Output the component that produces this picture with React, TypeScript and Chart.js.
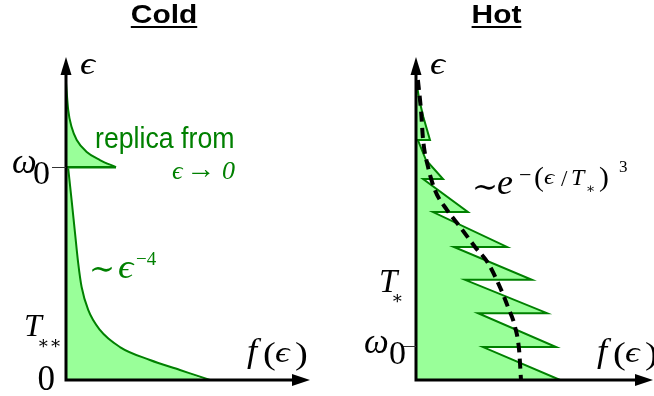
import React, { useEffect, useRef } from 'react';
import { Chart, registerables } from 'chart.js';
Chart.register(...registerables);

// ---------- Cold panel (f, epsilon) ----------
const coldReplicaF = [0, 0.09, 0.23, 0.44, 0.85, 1.39, 2.05];
const coldReplicaE = [9.2, 8.36, 7.83, 7.43, 7.06, 6.81, 6.59];
const coldTailF = [0.09, 0.23, 0.37, 0.5, 0.64, 0.91, 1.39, 2.21, 3.44, 4.67, 5.9];
const coldTailE = [6.55, 5.57, 4.55, 3.62, 2.88, 2.17, 1.55, 1.02, 0.62, 0.31, 0];
const coldOmega0 = 6.59;

// ---------- Hot panel (f, epsilon) ----------
const hotSawF = [0, 0.14, 0.31, 0.59, 0.08, 0.42, 1.14, 0.3, 2.19, 0.72, 3.84, 1.6, 4.89, 2.07, 5.53, 2.62, 5.91, 2.83, 6.08];
const hotSawE = [9.29, 8.67, 8.14, 7.43, 7.43, 6.81, 6.22, 6.22, 5.2, 5.2, 4.12, 4.12, 3.1, 3.1, 2.07, 2.07, 1.02, 1.02, 0];
const hotFitF = [0.08, 0.21, 0.3, 0.51, 0.8, 1.31, 1.86, 2.49, 3.04, 3.54, 3.88, 4.18, 4.35, 4.43];
const hotFitE = [9.29, 8.36, 7.43, 6.59, 5.88, 5.26, 4.74, 4.12, 3.62, 2.88, 2.26, 1.64, 0.93, 0];
const hotOmega0 = 1.04;

const GREEN = '#008000';
const FILL = '#99ff99';
const SERIF = "'Liberation Serif', 'DejaVu Serif', serif";
const SANS = "'Liberation Sans', Arial, sans-serif";

const pts = (xs: number[], ys: number[]) => xs.map((x, i) => ({ x, y: ys[i] }));

function txt(ctx: CanvasRenderingContext2D, s: string, x: number, y: number, font: string,
  color = '#000', align: CanvasTextAlign = 'left', sx = 1) {
  ctx.save();
  ctx.font = font;
  ctx.fillStyle = color;
  ctx.textAlign = align;
  ctx.textBaseline = 'alphabetic';
  ctx.translate(x, y);
  ctx.scale(sx, 1);
  ctx.fillText(s, 0, 0);
  ctx.restore();
}

function title(ctx: CanvasRenderingContext2D, s: string, cx: number) {
  txt(ctx, s, cx, 23, `bold 26px ${SANS}`, '#000', 'center', 1.15);
  ctx.save();
  ctx.font = `bold 26px ${SANS}`;
  const w = ctx.measureText(s).width * 1.15;
  ctx.fillStyle = '#000';
  ctx.fillRect(cx - w / 2, 26, w, 2);
  ctx.restore();
}

function fOfEps(ctx: CanvasRenderingContext2D, x: number, y: number) {
  txt(ctx, 'f', x, y, `italic 33px ${SERIF}`, '#000', 'left', 1.1);
  txt(ctx, '(', x + 16, y + 2, `32px ${SERIF}`, '#000', 'left', 1.2);
  txt(ctx, 'ϵ', x + 28, y, `italic 29px ${SERIF}`, '#000', 'left', 1.25);
  txt(ctx, ')', x + 48, y + 2, `32px ${SERIF}`, '#000', 'left', 1.2);
}

function drawAxes(chart: any, tickE: number) {
  const { ctx, chartArea: a } = chart;
  ctx.save();
  ctx.strokeStyle = '#000';
  ctx.lineWidth = 3;
  ctx.beginPath();
  ctx.moveTo(a.left, a.bottom + 1.5);
  ctx.lineTo(a.left, a.top + 14);
  ctx.moveTo(a.left - 1.5, a.bottom);
  ctx.lineTo(a.right - 14, a.bottom);
  ctx.stroke();
  ctx.fillStyle = '#000';
  ctx.beginPath();
  ctx.moveTo(a.left, a.top);
  ctx.lineTo(a.left - 5.5, a.top + 18);
  ctx.lineTo(a.left + 5.5, a.top + 18);
  ctx.closePath();
  ctx.fill();
  ctx.beginPath();
  ctx.moveTo(a.right, a.bottom);
  ctx.lineTo(a.right - 18, a.bottom - 6);
  ctx.lineTo(a.right - 18, a.bottom + 6);
  ctx.closePath();
  ctx.fill();
  const y = Math.round(chart.scales.y.getPixelForValue(tickE)) + 0.5;
  ctx.lineWidth = 1;
  ctx.strokeStyle = '#333';
  ctx.beginPath();
  ctx.moveTo(a.left - 14, y);
  ctx.lineTo(a.left, y);
  ctx.stroke();
  ctx.restore();
}

const baseScales = {
  x: { type: 'linear', min: 0, max: 10, display: false },
  y: { type: 'linear', min: 0, max: 10, display: false },
};

const baseOptions = (padLeft: number, padRight: number) => ({
  animation: false,
  responsive: false,
  devicePixelRatio: 1,
  layout: { padding: { left: padLeft, right: padRight, top: 57, bottom: 16 } },
  scales: baseScales,
  plugins: { legend: { display: false }, tooltip: { enabled: false }, title: { display: false } },
  events: [],
});

const mono = { cubicInterpolationMode: 'monotone', pointRadius: 0 };

function coldConfig(): any {
  const tipF = coldReplicaF[coldReplicaF.length - 1];
  return {
    type: 'line',
    data: {
      datasets: [
        { data: pts(coldReplicaF, coldReplicaE), borderColor: GREEN, borderWidth: 2, fill: false, ...mono },
        { data: pts([tipF, 0], [coldOmega0, coldOmega0]), borderColor: GREEN, borderWidth: 2.5, fill: false, pointRadius: 0 },
        { data: pts(coldTailF, coldTailE), borderColor: GREEN, borderWidth: 2, fill: false, ...mono },
        { data: pts([...coldReplicaF, 0], [...coldReplicaE, coldOmega0]), borderWidth: 0, borderColor: 'rgba(0,0,0,0)', backgroundColor: FILL, fill: 'shape', ...mono },
        { data: pts([0, ...coldTailF, 0], [coldOmega0, ...coldTailE, 0]), borderWidth: 0, borderColor: 'rgba(0,0,0,0)', backgroundColor: FILL, fill: 'shape', ...mono },
      ],
    },
    options: baseOptions(66, 17),
    plugins: [{
      id: 'coldDeco',
      afterDatasetsDraw(chart: any) {
        const ctx = chart.ctx;
        drawAxes(chart, coldOmega0);
        title(ctx, 'Cold', 164);
        txt(ctx, 'ϵ', 80, 74, `italic 31px ${SERIF}`, '#000', 'left', 1.2);
        txt(ctx, 'ω', 12, 173, `italic 35px ${SERIF}`);
        txt(ctx, '0', 33, 184, `34px ${SERIF}`);
        txt(ctx, 'replica from', 95, 148, `30px ${SANS}`, GREEN, 'left', 0.89);
        txt(ctx, 'ϵ', 172, 179, `italic 26px ${SERIF}`, GREEN);
        txt(ctx, '→', 186, 178, `28px ${SERIF}`, GREEN, 'left', 1.05);
        txt(ctx, '0', 235, 179, `italic 26px ${SERIF}`, GREEN, 'right');
        txt(ctx, '∼', 89, 279, `31px ${SERIF}`, GREEN);
        txt(ctx, 'ϵ', 118, 278, `italic 33px ${SERIF}`, GREEN, 'left', 1.15);
        txt(ctx, '−4', 136, 265, `19px ${SERIF}`, GREEN);
        txt(ctx, 'T', 24, 336, `italic 32px ${SERIF}`);
        txt(ctx, '∗∗', 37, 349, `18px ${SERIF}`);
        txt(ctx, '0', 55, 390, `35px ${SERIF}`, '#000', 'right');
        fOfEps(ctx, 247, 362);
      },
    }],
  };
}

function hotConfig(): any {
  const off = 327;
  return {
    type: 'line',
    data: {
      datasets: [
        { data: pts(hotFitF, hotFitE), borderColor: '#000', borderWidth: 4, borderDash: [10, 6], fill: false, ...mono },
        { data: pts(hotSawF, hotSawE), borderColor: GREEN, borderWidth: 2, fill: false, pointRadius: 0, tension: 0 },
        { data: pts([...hotSawF, 0], [...hotSawE, 0]), borderWidth: 0, borderColor: 'rgba(0,0,0,0)', backgroundColor: FILL, fill: 'shape', pointRadius: 0, tension: 0 },
      ],
    },
    options: baseOptions(416 - off, 1),
    plugins: [{
      id: 'hotDeco',
      afterDatasetsDraw(chart: any) {
        const ctx = chart.ctx;
        drawAxes(chart, hotOmega0);
        title(ctx, 'Hot', 496.5 - off);
        txt(ctx, 'ϵ', 430 - off, 74, `italic 31px ${SERIF}`, '#000', 'left', 1.2);
        txt(ctx, 'T', 379 - off, 292, `italic 33px ${SERIF}`);
        txt(ctx, '∗', 391 - off, 304, `18px ${SERIF}`);
        txt(ctx, 'ω', 364 - off, 353, `italic 35px ${SERIF}`);
        txt(ctx, '0', 389 - off, 364, `34px ${SERIF}`);
        fOfEps(ctx, 597 - off, 362);
        txt(ctx, '∼', 472 - off, 197, `31px ${SERIF}`);
        txt(ctx, 'e', 497 - off, 194, `italic 36px ${SERIF}`);
        txt(ctx, '−', 519 - off, 182, `22px ${SERIF}`);
        txt(ctx, '(', 534 - off, 186, `27px ${SERIF}`, '#000', 'left', 1.1);
        txt(ctx, 'ϵ', 544 - off, 184, `italic 22px ${SERIF}`, '#000', 'left', 1.15);
        txt(ctx, '/', 561 - off, 186, `23px ${SERIF}`);
        txt(ctx, 'T', 571 - off, 185, `italic 24px ${SERIF}`);
        txt(ctx, '∗', 586 - off, 193, `14px ${SERIF}`);
        txt(ctx, ')', 599 - off, 186, `27px ${SERIF}`, '#000', 'left', 1.1);
        txt(ctx, '3', 619 - off, 172, `17px ${SERIF}`);
      },
    }],
  };
}

export default function App() {
  const leftRef = useRef<HTMLCanvasElement>(null);
  const rightRef = useRef<HTMLCanvasElement>(null);
  useEffect(() => {
    const c1 = new Chart(leftRef.current as HTMLCanvasElement, coldConfig());
    const c2 = new Chart(rightRef.current as HTMLCanvasElement, hotConfig());
    return () => {
      c1.destroy();
      c2.destroy();
    };
  }, []);
  return (
    <div style={{ position: 'fixed', left: 0, top: 0, width: 654, height: 396, background: '#fff' }}>
      <canvas ref={leftRef} width={327} height={396} style={{ position: 'absolute', left: 0, top: 0, width: 327, height: 396 }} />
      <canvas ref={rightRef} width={327} height={396} style={{ position: 'absolute', left: 327, top: 0, width: 327, height: 396 }} />
    </div>
  );
}
